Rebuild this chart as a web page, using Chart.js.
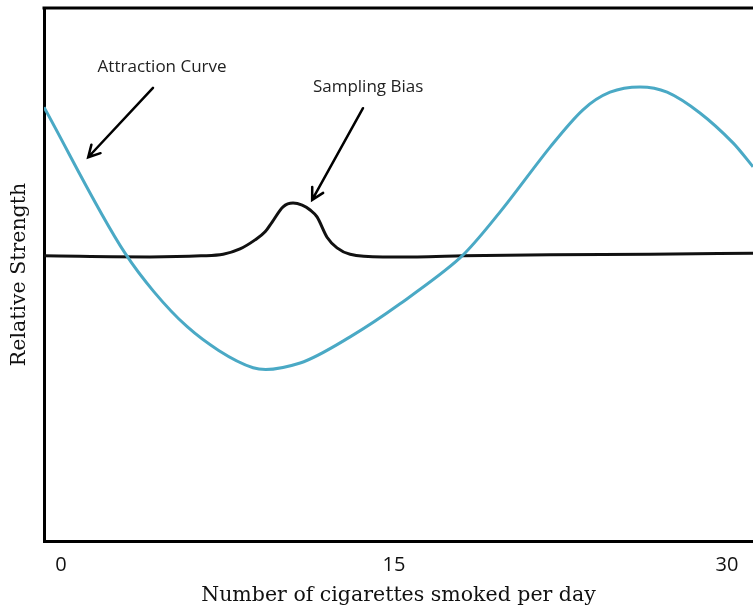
<!DOCTYPE html>
<html>
<head>
<meta charset="utf-8">
<script src="https://cdn.jsdelivr.net/npm/chart.js@4"></script>
<style>
  html, body { margin: 0; padding: 0; background: #fff; }
  #wrap { width: 753px; height: 610px; }
</style>
</head>
<body>
<div id="wrap"><canvas id="chart" width="753" height="610"></canvas></div>
<script>
// values (x = cigarettes per day, y = relative strength 0..100)
const xTicks = [0, 15, 30];

const attractionX = [-0.77, 2.88, 5.68, 8.65, 10.77, 13.02, 15.27, 17.97, 19.77, 22.03, 23.51, 24.73, 26.08, 27.30, 28.78, 30.27, 31.17];
const attractionY = [81.4, 54.0, 40.2, 32.5, 33.4, 38.3, 44.5, 53.1, 61.7, 73.9, 80.9, 84.2, 85.2, 84.2, 80.3, 74.7, 70.2];

const biasX = [-0.77, 4.0, 6.3, 7.3, 8.06, 8.74, 9.19, 9.5, 10.0, 10.45, 10.86, 11.22, 11.53, 11.98, 12.43, 13.02, 14.5, 16.04, 18.11, 22.03, 26.53, 31.17];
const biasY = [53.5, 53.3, 53.5, 53.8, 54.8, 56.5, 58.0, 59.8, 62.7, 63.4, 63.0, 62.1, 60.8, 57.0, 55.0, 53.8, 53.3, 53.3, 53.5, 53.7, 53.8, 54.0];

// arrow labels, in data units
const notes = [
  { text: 'Attraction Curve', tx: 4.55, ty: 88.9, from: [4.14, 85.0], to: [1.22, 72.0] },
  { text: 'Sampling Bias', tx: 13.83, ty: 85.2, from: [13.6, 81.2], to: [11.31, 64.0] }
];

const toPoints = (xs, ys) => xs.map((x, i) => ({ x: x, y: ys[i] }));

// arrows + text and the top frame line
const notesPlugin = {
  id: 'notes',
  afterDatasetsDraw(chart) {
    const { ctx, chartArea, scales } = chart;
    ctx.save();
    // top border of the frame
    ctx.strokeStyle = '#000';
    ctx.lineWidth = 3;
    ctx.beginPath();
    ctx.moveTo(chartArea.left - 1.5, chartArea.top);
    ctx.lineTo(chartArea.right, chartArea.top);
    ctx.stroke();

    ctx.font = '17px "Open Sans"';
    ctx.fillStyle = '#222';
    ctx.textAlign = 'center';
    ctx.textBaseline = 'middle';
    notes.forEach(n => {
      ctx.fillText(n.text, scales.x.getPixelForValue(n.tx), scales.y.getPixelForValue(n.ty));
      const x1 = scales.x.getPixelForValue(n.from[0]), y1 = scales.y.getPixelForValue(n.from[1]);
      const x2 = scales.x.getPixelForValue(n.to[0]), y2 = scales.y.getPixelForValue(n.to[1]);
      const a = Math.atan2(y2 - y1, x2 - x1);
      ctx.lineWidth = 2.5;
      ctx.strokeStyle = '#000';
      ctx.lineCap = 'round';
      ctx.beginPath();
      ctx.moveTo(x1, y1);
      ctx.lineTo(x2, y2);
      ctx.moveTo(x2 - 13 * Math.cos(a - 0.5), y2 - 13 * Math.sin(a - 0.5));
      ctx.lineTo(x2, y2);
      ctx.lineTo(x2 - 13 * Math.cos(a + 0.5), y2 - 13 * Math.sin(a + 0.5));
      ctx.stroke();
    });
    ctx.restore();
  }
};

new Chart(document.getElementById('chart'), {
  type: 'line',
  data: {
    datasets: [
      {
        label: 'Attraction Curve',
        data: toPoints(attractionX, attractionY),
        borderColor: '#4aa9c5',
        borderWidth: 3,
        pointRadius: 0,
        tension: 0.3
      },
      {
        label: 'Sampling Bias',
        data: toPoints(biasX, biasY),
        borderColor: '#111',
        borderWidth: 3,
        pointRadius: 0,
        cubicInterpolationMode: 'monotone'
      }
    ]
  },
  options: {
    responsive: false,
    animation: false,
    devicePixelRatio: 1,
    layout: { padding: { top: 8, left: 0, right: 0, bottom: 0 } },
    plugins: { legend: { display: false }, tooltip: { enabled: false } },
    scales: {
      x: {
        type: 'linear',
        min: -0.77,
        max: 31.17,
        afterBuildTicks: s => { s.ticks = xTicks.map(v => ({ value: v })); },
        afterFit: s => { s.height = 69; },
        grid: { display: false, drawTicks: false },
        border: { display: true, color: '#000', width: 3 },
        ticks: { color: '#111', padding: 12, maxRotation: 0, font: { family: 'Open Sans', size: 20 } },
        title: {
          display: true,
          text: 'Number of cigarettes smoked per day',
          color: '#111',
          font: { family: 'DejaVu Serif', size: 20.5 },
          padding: { top: 0, bottom: 2 }
        }
      },
      y: {
        min: 0,
        max: 100,
        afterFit: s => { s.width = 44; },
        grid: { display: false, drawTicks: false },
        border: { display: true, color: '#000', width: 3 },
        ticks: { display: false },
        title: {
          display: true,
          text: 'Relative Strength',
          color: '#111',
          font: { family: 'DejaVu Serif', size: 20.5 },
          padding: { top: 7, bottom: 0 }
        }
      }
    }
  },
  plugins: [notesPlugin]
});
</script>
</body>
</html>
